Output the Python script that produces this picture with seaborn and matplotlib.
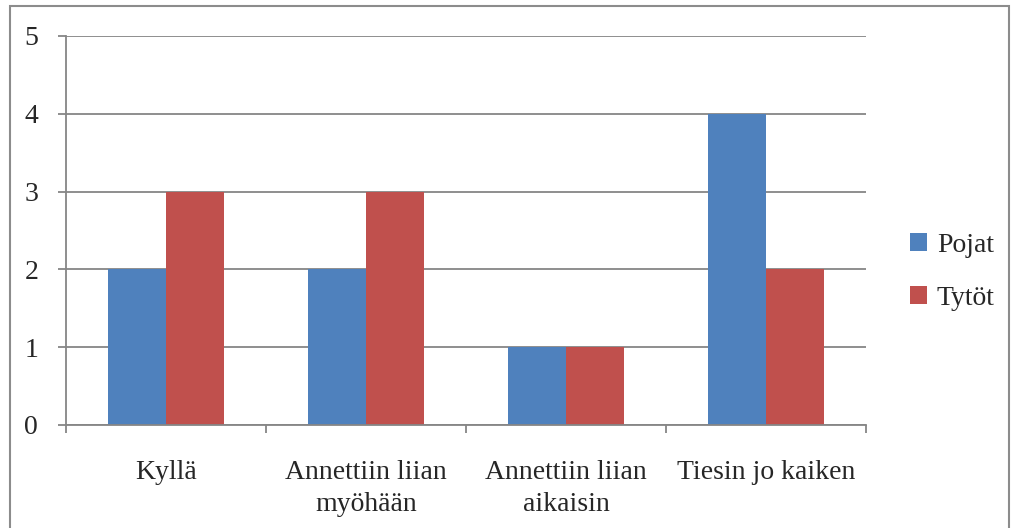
import matplotlib
matplotlib.use("Agg")
import matplotlib.pyplot as plt
import seaborn as sns
import pandas as pd
from matplotlib.patches import Rectangle, Patch

categories = ["Kyllä", "Annettiin liian\nmyöhään", "Annettiin liian\naikaisin", "Tiesin jo kaiken"]
pojat = [2, 2, 1, 4]
tytot = [3, 3, 1, 2]
series_names = ["Pojat", "Tytöt"]
colors = ["#4F81BD", "#C0504D"]

df = pd.DataFrame({
    "cat": categories * 2,
    "value": pojat + tytot,
    "series": [series_names[0]] * len(categories) + [series_names[1]] * len(categories),
})

sns.set_theme(style="white")
plt.rcParams["font.family"] = ["Liberation Serif", "DejaVu Serif"]

W, H = 1017, 528
fig = plt.figure(figsize=(W / 100, H / 100), dpi=100)
fig.patch.set_facecolor("white")
ax = fig.add_axes([66 / W, 1 - 425 / H, 800 / W, 389 / H])

sns.barplot(data=df, x="cat", y="value", hue="series", palette=colors,
            width=0.58, linewidth=0, saturation=1, ax=ax, legend=False, order=categories)

grid_c = "#868686"
fs = 20
ax.set_ylim(0, 5)
ax.set_xlim(-0.5, len(categories) - 0.5)
ax.set_yticks(range(0, 6))
ax.yaxis.grid(True, color=grid_c, linewidth=1.3)
ax.set_axisbelow(True)
for s in ["top", "right"]:
    ax.spines[s].set_visible(False)
for s in ["left", "bottom"]:
    ax.spines[s].set_color(grid_c)
    ax.spines[s].set_linewidth(1.3)
ax.set_xlabel("")
ax.set_ylabel("")
ax.tick_params(axis="y", length=6, width=1.3, color=grid_c, pad=14, labelsize=fs, left=True)
ax.set_xticks([i - 0.5 for i in range(len(categories) + 1)], minor=True)
ax.tick_params(axis="x", which="minor", length=6, width=1.3, color=grid_c, bottom=True)
ax.tick_params(axis="x", which="major", length=0, pad=25, labelsize=fs)
for lbl in ax.get_xticklabels():
    lbl.set_linespacing(1.36)

handles = [Patch(facecolor=c, edgecolor="none") for c in colors]
fig.legend(handles, series_names, loc="center left", bbox_to_anchor=(885 / W, 1 - 272 / H),
           frameon=False, fontsize=fs, handlelength=0.62, handleheight=0.62,
           handletextpad=0.35, labelspacing=1.0)

fig.add_artist(Rectangle((10 / W, -0.01), 999 / W, 1 - 6 / H + 0.01, transform=fig.transFigure,
                         fill=False, edgecolor="#8C8C8C", linewidth=1.5))

fig.savefig("out.png", dpi=100)
